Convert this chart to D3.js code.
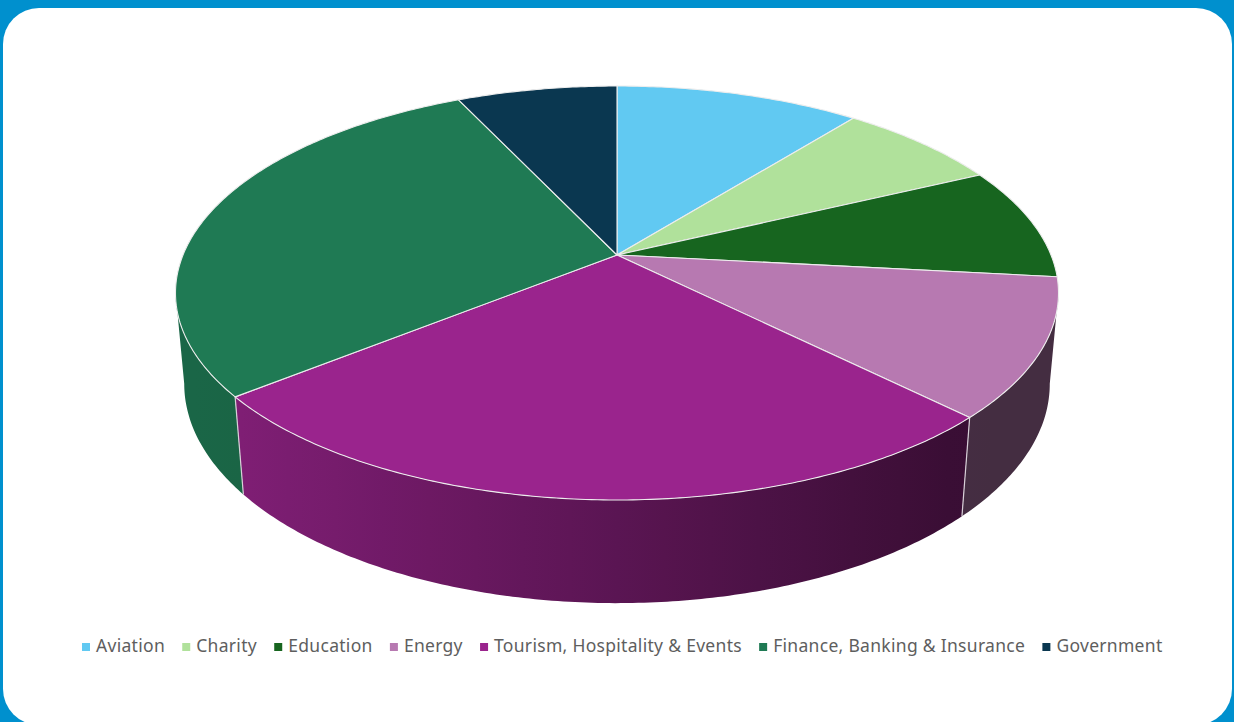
<!DOCTYPE html>
<html>
<head>
<meta charset="utf-8">
<style>
html, body { margin: 0; padding: 0; background: #0090CE; overflow: hidden; }
svg { display: block; }
</style>
<script src="https://cdn.jsdelivr.net/npm/d3@7/dist/d3.min.js"></script>
</head>
<body>
<svg id="chart" width="1234" height="722"></svg>
<script>
// Share of engagements per sector (percent)
const categories = ["Aviation", "Charity", "Education", "Energy", "Tourism, Hospitality & Events", "Finance, Banking & Insurance", "Government"];
const shares = [10.7, 7.2, 8.8, 10.8, 26.7, 28.8, 7.0];
const sliceColors = ["#61C9F2", "#B0E19B", "#17651F", "#B779B1", "#9A248D", "#1F7A54", "#0A3750"];

const svg = d3.select("#chart");
const defs = svg.append("defs");

// White card sitting on the blue page
svg.append("rect")
  .attr("x", 3).attr("y", 8)
  .attr("width", 1229).attr("height", 717)
  .attr("rx", 36).attr("ry", 36)
  .attr("fill", "#FFFFFF");

// Perspective view of a cylinder: (u, v) on the unit disc, z = 0 top face, z = 1 bottom face
const apex = { x: 617, y: 255 };
const view = { k: 434, f: 200, c: 0.1836, g: 91, e: 0.0195 };
function project(angle, z, r = 1) {
  const u = r * Math.sin(angle), v = -r * Math.cos(angle);
  const w = 1 - view.c * v + view.e * z;
  return [apex.x + view.k * u / w, apex.y + (view.f * v + view.g * z) / w];
}

const arcs = d3.pie().sort(null).value(d => d)(shares);
const line = d3.line();
const edgeStroke = "#EDEDED";

// Wall lighting falls off from left to right across the front of the cylinder
const xSpan = [apex.x - 470, apex.x + 470];
const shade = d3.scaleLinear().domain([-0.85, 0.72]).range([0.84, 0.37]).clamp(true);
const wallColor = (base, t) => {
  const c = d3.rgb(base), s = shade(t);
  return d3.rgb(c.r * s, c.g * s, c.b * s).formatHex();
};

arcs.forEach((a, i) => {
  const grad = defs.append("linearGradient")
    .attr("id", "wall-" + i)
    .attr("gradientUnits", "userSpaceOnUse")
    .attr("x1", xSpan[0]).attr("x2", xSpan[1])
    .attr("y1", 0).attr("y2", 0);
  d3.range(0, 21).forEach(j => {
    const off = j / 20;
    grad.append("stop")
      .attr("offset", off)
      .attr("stop-color", wallColor(sliceColors[i], off * 2 - 1));
  });
});

const rimPoints = (a0, a1, z) => {
  const n = Math.max(2, Math.ceil((a1 - a0) * 90));
  return d3.range(n + 1).map(j => project(a0 + (a1 - a0) * j / n, z));
};

// Only the near arc of the wall faces the viewer; the silhouette sits where v = c / (1 + e)
const tangentV = view.c / (1 + view.e);
const nearStart = Math.acos(-tangentV);
const nearEnd = 2 * Math.PI - nearStart;
const walls = arcs
  .map((a, i) => ({ i, a0: Math.max(a.startAngle, nearStart), a1: Math.min(a.endAngle, nearEnd) }))
  .filter(w => w.a1 > w.a0);

svg.append("g").selectAll("path").data(walls).join("path")
  .attr("d", w => line([...rimPoints(w.a0, w.a1, 0), ...rimPoints(w.a0, w.a1, 1).reverse()]) + "Z")
  .attr("fill", w => `url(#wall-${w.i})`);

// Light seams where two visible walls meet on the near side
const seams = arcs.filter(a => a.endAngle > nearStart && a.endAngle < nearEnd);
svg.append("g").selectAll("line").data(seams).join("line")
  .each(function (a) {
    const p = project(a.endAngle, 0), q = project(a.endAngle, 1);
    d3.select(this).attr("x1", p[0]).attr("y1", p[1]).attr("x2", q[0]).attr("y2", q[1]);
  })
  .attr("stroke", "#D8D0D8").attr("stroke-width", 1.2);

// Top face of every slice
svg.append("g").selectAll("path").data(arcs).join("path")
  .attr("d", a => line([project(0, 0, 0), ...rimPoints(a.startAngle, a.endAngle, 0)]) + "Z")
  .attr("fill", (a, i) => sliceColors[i])
  .attr("stroke", edgeStroke)
  .attr("stroke-width", 1.1)
  .attr("stroke-linejoin", "round");

// Legend row
const legend = svg.append("g")
  .attr("font-family", "'Noto Sans', sans-serif")
  .attr("font-size", 17.5)
  .attr("letter-spacing", 0.3)
  .attr("fill", "#5E5E5E");
const legendY = 646;
const swatch = 8, swatchGap = 6, itemGap = 17.2;
let cursor = 82;
categories.forEach((name, i) => {
  legend.append("rect")
    .attr("x", cursor).attr("y", legendY - swatch / 2 + 1)
    .attr("width", swatch).attr("height", swatch)
    .attr("fill", sliceColors[i]);
  const label = legend.append("text")
    .attr("x", cursor + swatch + swatchGap)
    .attr("y", legendY + 6)
    .text(name);
  cursor += swatch + swatchGap + label.node().getComputedTextLength() + itemGap;
});
</script>
</body>
</html>
